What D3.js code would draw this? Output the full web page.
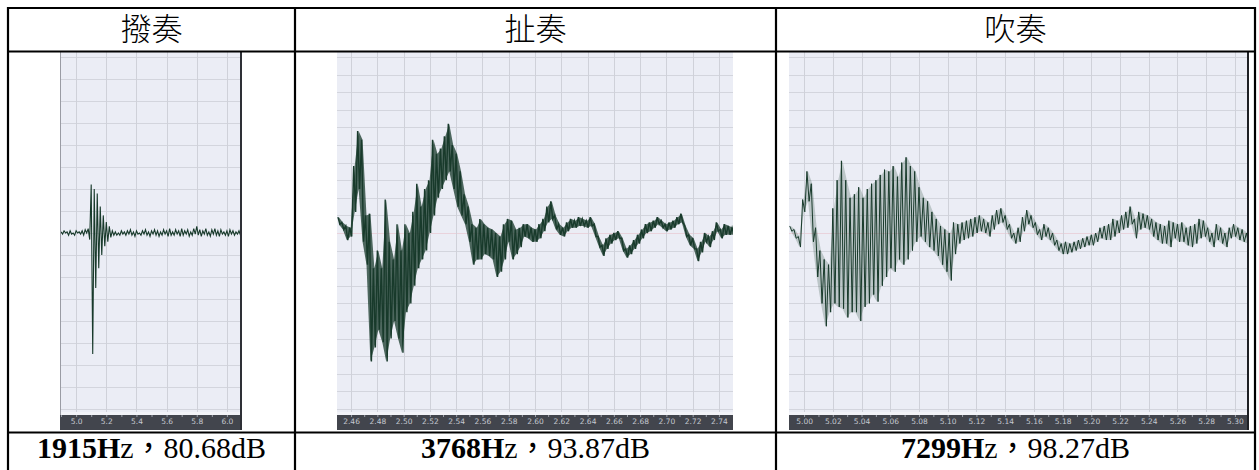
<!DOCTYPE html>
<html>
<head>
<meta charset="utf-8">
<script src="https://cdn.jsdelivr.net/npm/d3@7"></script>
<style>
	body { margin: 0; background: #fff; }
	svg { display: block; }
	.axis_text { font-family: "DejaVu Sans", sans-serif; font-size: 7.5px; fill: #c4c8d0; }
	.head { font-family: "Noto Sans CJK TC", sans-serif; font-size: 31px; font-weight: 300; }
	.foot { font-family: "Liberation Serif", "Noto Sans CJK TC", serif; font-size: 30px; }
</style>
</head>
<body>
<div id="chart"></div>
<script>
// column titles and the measured pitch / level under each picture
const headers = ["撥奏", "扯奏", "吹奏"];
const freqs = ["1915", "3768", "7299"];
const levels = ["80.68", "93.87", "98.27"];

// time axis tick labels (seconds)
const pluck_ticks = [5.0, 5.2, 5.4, 5.6, 5.8, 6.0];
const tug_ticks = [2.46, 2.48, 2.50, 2.52, 2.54, 2.56, 2.58, 2.60, 2.62, 2.64, 2.66, 2.68, 2.70, 2.72, 2.74];
const blow_ticks = [5.00, 5.02, 5.04, 5.06, 5.08, 5.10, 5.12, 5.14, 5.16, 5.18, 5.20, 5.22, 5.24, 5.26, 5.28, 5.30];

// visible time range of each screenshot
const pluck_domain = [4.893, 6.10];
const tug_domain = [2.4493, 2.7507];
const blow_domain = [4.9895, 5.3098];

// waveform: upper / lower excursion per time bin, in grid divisions
const pluck_start = 4.90, pluck_step = 0.02;
const pluck_hi = [0.05,0.1,0.05,0.1,0.0,0.1,0.05,0.1,0.15,0.2,2.2,2.0,1.8,1.2,0.8,0.5,0.3,0.1,0.05,
	0.0,0.1,0.05,0.1,0.15,0.05,0.1,0.0,0.1,0.15,0.05,0.1,0.15,0.1,0.05,0.15,0.1,0.2,0.05,0.15,
	0.1,0.2,0.1,0.15,0.05,0.2,0.3,0.15,0.1,0.2,0.05,0.15,0.2,0.1,0.15,0.05,0.1,0.15,0.1,0.05,0.1,0.05];
const pluck_lo = [-0.05,0.0,-0.1,-0.05,-0.1,0.0,-0.05,-0.1,0.0,-0.3,-5.5,-2.5,-1.6,-1.0,-0.6,-0.4,-0.2,-0.1,-0.1,
	-0.1,-0.05,-0.1,-0.05,-0.1,-0.15,-0.05,-0.1,-0.05,-0.1,-0.15,-0.05,-0.1,-0.15,-0.1,-0.05,-0.15,-0.1,-0.1,-0.05,
	-0.15,-0.1,-0.05,-0.15,-0.1,-0.05,-0.1,-0.15,-0.05,-0.1,-0.15,-0.05,-0.1,-0.15,-0.05,-0.1,-0.15,-0.05,-0.1,-0.05,-0.1,-0.05];

const tug_start = 2.450, tug_step = 0.003;
const tug_hi = [0.9,0.6,0.4,0.3,3.8,5.8,5.3,1.0,1.1,-2.0,-1.0,-2.0,1.9,-0.5,-1.5,0.5,-1.0,0.5,0.0,1.2,
	2.8,1.5,2.5,3.0,5.3,4.5,4.8,5.5,6.2,5.0,4.5,3.5,2.2,1.5,0.5,0.3,0.8,0.5,0.3,0.2,
	0.0,-0.2,0.5,0.8,0.7,0.2,0.3,0.5,0.5,0.3,0.2,0.5,0.8,1.5,1.8,1.0,0.5,0.3,0.6,0.8,
	0.7,0.9,0.8,0.7,0.9,0.5,-0.2,-0.7,-0.3,-0.1,0.0,0.1,-0.3,-0.9,-0.7,-0.4,-0.1,0.2,0.5,0.6,
	0.7,0.9,0.7,0.5,0.6,0.7,0.9,1.1,0.4,-0.1,-0.3,-0.9,-0.5,0.0,-0.2,0.1,0.6,0.2,0.5,0.4,0.3];
const tug_lo = [0.5,0.2,-0.4,-0.2,1.2,2.5,-0.5,-1.8,-7.3,-6.5,-5.5,-6.2,-7.3,-6.0,-5.0,-6.0,-6.8,-4.5,-4.0,-3.0,
	-2.0,-1.5,-1.0,0.0,1.0,2.0,2.5,3.0,3.5,2.5,1.5,1.0,0.5,-0.5,-1.8,-1.5,-1.5,-1.2,-1.3,-1.5,
	-2.5,-2.2,-1.5,-0.5,-1.5,-1.2,-0.8,-0.2,-0.3,-0.5,-0.5,-0.3,0.1,0.6,0.8,0.2,-0.1,-0.2,0.1,0.3,
	0.3,0.4,0.4,0.3,0.4,-0.2,-0.8,-1.3,-0.9,-0.6,-0.4,-0.3,-1.0,-1.4,-1.2,-0.9,-0.6,-0.3,0.0,0.1,
	0.3,0.5,0.3,0.1,0.2,0.3,0.5,0.6,-0.2,-0.7,-0.9,-1.6,-1.1,-0.5,-0.8,-0.4,0.1,-0.3,-0.1,-0.1,-0.1];

const blow_start = 4.990, blow_step = 0.003;
const blow_hi = [0.4,0.2,-0.2,1.9,3.5,2.8,0.3,-1.0,-1.5,-1.8,1.4,3.0,4.1,3.0,2.0,2.2,2.6,2.0,2.5,2.8,
	3.0,3.3,3.6,3.5,3.8,3.2,4.0,4.3,3.8,3.5,2.6,2.0,1.8,1.2,0.8,0.4,0.2,0.0,0.6,0.5,
	0.6,0.7,0.8,0.9,1.0,0.8,0.6,1.0,1.3,1.4,1.0,0.5,0.0,0.3,0.9,1.3,1.0,0.6,0.2,0.5,
	0.3,0.0,-0.4,-0.6,-0.5,-0.6,-0.5,-0.4,-0.3,-0.2,-0.1,0.0,0.3,0.4,0.5,0.8,0.7,1.0,1.2,1.5,
	0.8,1.2,1.1,1.0,0.8,0.6,0.5,0.4,0.7,0.6,0.5,0.6,0.3,0.4,0.5,0.8,0.7,0.3,0.0,0.5,
	0.3,0.0,0.3,0.5,0.3,0.2,0.0];
const blow_lo = [0.1,-0.3,-0.8,1.2,1.8,-0.5,-2.5,-4.0,-5.3,-4.5,-4.0,-4.2,-4.3,-4.8,-4.5,-4.5,-5.0,-4.2,-4.0,-3.5,
	-3.9,-3.0,-2.5,-2.0,-2.2,-1.5,-1.8,-1.5,-1.0,-0.5,-0.2,-0.5,-0.8,-1.0,-1.3,-1.8,-2.2,-2.7,-1.2,-0.6,
	-0.4,-0.3,-0.2,0.0,0.1,0.0,-0.2,0.2,0.5,0.6,0.2,-0.3,-0.6,-0.5,0.1,0.5,0.3,-0.1,-0.4,-0.2,
	-0.4,-0.7,-1.0,-1.2,-1.2,-1.1,-1.0,-0.9,-0.8,-0.7,-0.7,-0.5,-0.3,-0.4,-0.4,-0.2,0.0,0.2,0.3,0.5,
	-0.3,0.2,0.3,0.2,-0.2,-0.4,-0.6,-0.6,-0.8,-0.3,-0.5,-0.5,-0.7,-0.8,-0.6,-0.3,-0.2,-0.5,-0.8,-0.4,
	-0.6,-0.8,-0.3,-0.2,-0.4,-0.5,-0.6];

class wave_panel {

	constructor(opts) {
		this.svg = opts.svg;
		this.id = opts.id;
		this.left = opts.left;
		this.right = opts.right;
		this.top = 52;
		this.bar_top = 415;
		this.bar_bottom = 430;
		this.mid = 233;
		this.unit = opts.unit;
		this.domain = opts.domain;
		this.ticks = opts.ticks;
		this.fmt = opts.fmt;
		this.start = opts.start;
		this.step = opts.step;
		this.hi = opts.hi;
		this.lo = opts.lo;
		this.edge_left = opts.edge_left;
		this.edge_right = opts.edge_right;
		this.stroke_width = opts.stroke_width;
		this.fill_opacity = opts.fill_opacity;

		this.init();
	}

	init() {
		this.g = this.svg.append("g").attr("class", "panel");
		this.create_scales();
		this.draw_grid();
		this.draw_wave();
		this.draw_axis();
	}

	create_scales() {
		this.x_scale = d3.scaleLinear()
			.domain(this.domain)
			.range([this.left, this.right]);
		// amplitude is in grid divisions, 0 sits on the centre line
		this.y_scale = d3.scaleLinear()
			.domain([0, 1])
			.range([this.mid, this.mid - this.unit]);
	}

	draw_grid() {
		this.g.append("rect")
			.attr("x", this.left)
			.attr("y", this.top)
			.attr("width", this.right - this.left)
			.attr("height", this.bar_top - this.top)
			.attr("fill", "#ebedf5");

		let k_top = Math.floor((this.mid - this.top) / this.unit);
		let k_bot = Math.floor((this.bar_top - this.mid - 3) / this.unit);
		let rows = d3.range(-k_bot, k_top + 1);

		this.g.selectAll(".hgrid")
			.data(rows)
			.enter()
			.append("line")
			.attr("class", "hgrid")
			.attr("x1", this.left)
			.attr("x2", this.right)
			.attr("y1", (d) => Math.round(this.y_scale(d)) + 0.5)
			.attr("y2", (d) => Math.round(this.y_scale(d)) + 0.5)
			.attr("stroke", (d) => d == 0 && this.id != "pluck" ? "#e9d3dc" : "#d3d5dd")
			.attr("stroke-width", 1);

		this.g.selectAll(".vgrid")
			.data(this.ticks)
			.enter()
			.append("line")
			.attr("class", "vgrid")
			.attr("x1", (d) => Math.round(this.x_scale(d)) + 0.5)
			.attr("x2", (d) => Math.round(this.x_scale(d)) + 0.5)
			.attr("y1", this.top)
			.attr("y2", this.bar_top)
			.attr("stroke", "#cfd1d9")
			.attr("stroke-width", 1);

		// pale strip above the time bar
		this.g.append("rect")
			.attr("x", this.left)
			.attr("y", this.bar_top - 3)
			.attr("width", this.right - this.left)
			.attr("height", 3)
			.attr("fill", "#f2f3f8");
	}

	draw_wave() {
		this.svg.append("clipPath")
			.attr("id", "clip_" + this.id)
			.append("rect")
			.attr("x", this.left)
			.attr("y", this.top)
			.attr("width", this.right - this.left)
			.attr("height", this.bar_top - this.top);

		let n = Math.min(this.hi.length, this.lo.length);
		let bins = d3.range(n).map((i) => ({
			t: this.start + i * this.step,
			hi: this.hi[i],
			lo: this.lo[i]
		}));

		// the envelope, shaded so dense stretches read as a solid band
		let band = d3.area()
			.x((d) => this.x_scale(d.t + this.step / 4))
			.y0((d) => this.y_scale(d.lo))
			.y1((d) => this.y_scale(d.hi));

		if (this.fill_opacity > 0) {
			this.g.append("path")
				.datum(bins)
				.attr("clip-path", `url(#clip_${this.id})`)
				.attr("d", band)
				.attr("fill", "#183a2b")
				.attr("fill-opacity", this.fill_opacity);
		}

		// the sample trace, swinging between the two excursions of every bin
		let pts = [];
		bins.forEach((b) => {
			pts.push([b.t, b.hi]);
			pts.push([b.t + this.step / 2, b.lo]);
		});

		let line = d3.line()
			.x((d) => this.x_scale(d[0]))
			.y((d) => this.y_scale(d[1]));

		this.g.append("path")
			.datum(pts)
			.attr("clip-path", `url(#clip_${this.id})`)
			.attr("d", line)
			.attr("fill", "none")
			.attr("stroke", "#183a2b")
			.attr("stroke-width", this.stroke_width)
			.attr("stroke-linejoin", "miter");
	}

	draw_axis() {
		this.g.append("rect")
			.attr("x", this.left)
			.attr("y", this.bar_top)
			.attr("width", this.right - this.left)
			.attr("height", this.bar_bottom - this.bar_top)
			.attr("fill", "#42454d");

		let half = (this.ticks[1] - this.ticks[0]) / 2;
		let minor = d3.range(this.ticks.length * 2 + 2)
			.map((i) => this.ticks[0] - half + i * half)
			.filter((d) => this.x_scale(d) > this.left + 1 && this.x_scale(d) < this.right - 1);

		this.g.append("g")
			.attr("class", "minor axis")
			.attr("transform", `translate(0,${this.bar_top})`)
			.call(d3.axisBottom(this.x_scale).tickValues(minor).tickSize(2).tickFormat(""))
			.call((a) => a.select(".domain").remove())
			.selectAll("line")
			.attr("stroke", "#9da1aa");

		let axis = this.g.append("g")
			.attr("class", "x axis")
			.attr("transform", `translate(0,${this.bar_top})`)
			.call(d3.axisBottom(this.x_scale)
				.tickValues(this.ticks)
				.tickSize(0)
				.tickPadding(4)
				.tickFormat(d3.format(this.fmt)));
		axis.select(".domain").remove();
		axis.selectAll("text")
			.attr("class", "axis_text")
			.attr("font-family", null)
			.attr("font-size", null);

		if (this.edge_left) {
			this.g.append("line")
				.attr("x1", this.left + 0.5).attr("x2", this.left + 0.5)
				.attr("y1", this.top).attr("y2", this.bar_top)
				.attr("stroke", this.edge_left);
		}
		if (this.edge_right) {
			this.g.append("line")
				.attr("x1", this.right - 1).attr("x2", this.right - 1)
				.attr("y1", this.top).attr("y2", this.bar_bottom)
				.attr("stroke", this.edge_right)
				.attr("stroke-width", 2);
		}
	}
}

const W = 1259, H = 470;
const svg = d3.select("#chart").append("svg")
	.attr("width", W)
	.attr("height", H)
	.attr("viewBox", `0 0 ${W} ${H}`);

new wave_panel({svg: svg, id: "pluck", left: 60, right: 242, unit: 22,
	domain: pluck_domain, ticks: pluck_ticks, fmt: ".1f",
	start: pluck_start, step: pluck_step, hi: pluck_hi, lo: pluck_lo,
	edge_left: "#9a9ca4", edge_right: "#2e3036", stroke_width: 1.1, fill_opacity: 0});
new wave_panel({svg: svg, id: "tug", left: 337, right: 733, unit: 17.6,
	domain: tug_domain, ticks: tug_ticks, fmt: ".2f",
	start: tug_start, step: tug_step, hi: tug_hi, lo: tug_lo,
	stroke_width: 1.4, fill_opacity: 0.75});
new wave_panel({svg: svg, id: "blow", left: 789, right: 1249, unit: 17.6,
	domain: blow_domain, ticks: blow_ticks, fmt: ".2f",
	start: blow_start, step: blow_step, hi: blow_hi, lo: blow_lo,
	edge_right: "#1e2024", stroke_width: 1, fill_opacity: 0.22});

// table frame
const col_x = [8, 295, 776, 1255];
const row_y = [8, 51.5, 432.5];
let frame = svg.append("g").attr("class", "frame");
col_x.forEach((x) => {
	frame.append("line").attr("x1", x).attr("x2", x).attr("y1", 7).attr("y2", H + 5)
		.attr("stroke", "#000").attr("stroke-width", 2.2);
});
row_y.forEach((y) => {
	frame.append("line").attr("x1", 7).attr("x2", 1256).attr("y1", y).attr("y2", y)
		.attr("stroke", "#000").attr("stroke-width", 2.2);
});

// header row
svg.selectAll(".head")
	.data(headers)
	.enter()
	.append("text")
	.attr("class", "head")
	.attr("x", (d, i) => (col_x[i] + col_x[i + 1]) / 2)
	.attr("y", 40)
	.attr("text-anchor", "middle")
	.text((d) => d);

// footer row
let foot = svg.selectAll(".foot")
	.data(freqs)
	.enter()
	.append("text")
	.attr("class", "foot")
	.attr("x", (d, i) => (col_x[i] + col_x[i + 1]) / 2)
	.attr("y", 458)
	.attr("text-anchor", "middle");
foot.append("tspan").attr("font-weight", "bold").text((d) => d + "H");
foot.append("tspan").text((d, i) => "z，" + levels[i] + "dB");
</script>
</body>
</html>
